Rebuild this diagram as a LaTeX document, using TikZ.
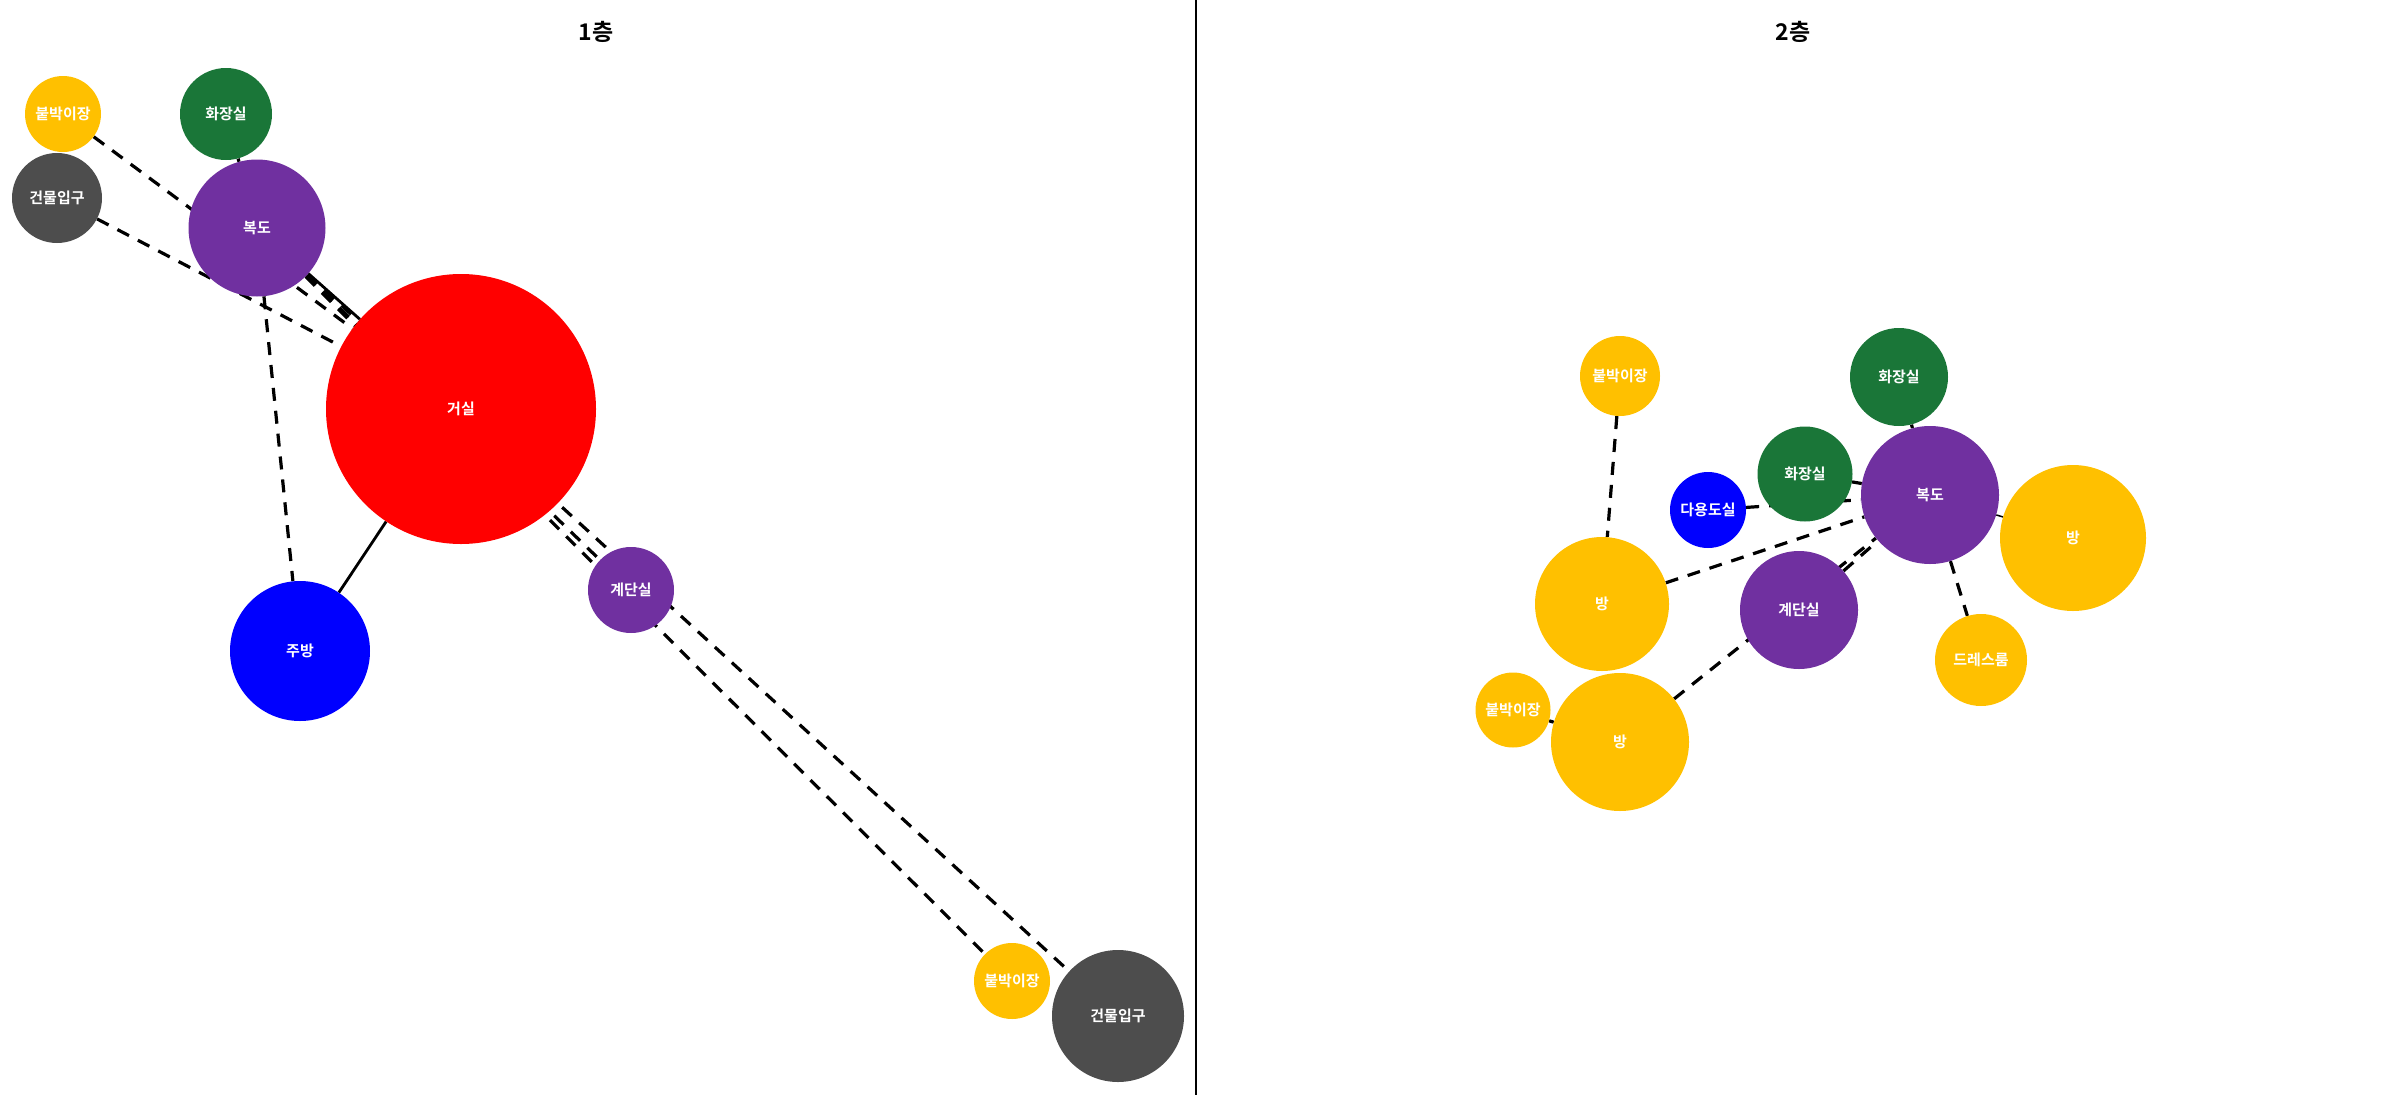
\documentclass[tikz,border=0pt]{standalone}
\usepackage{fontspec}
\setmainfont{Noto Sans CJK KR}[BoldFont={Noto Sans CJK KR Bold}]
\usetikzlibrary{backgrounds}

\definecolor{closet}{RGB}{255,192,0}
\definecolor{bath}{RGB}{26,118,56}
\definecolor{entry}{RGB}{77,77,77}
\definecolor{hall}{RGB}{112,48,160}

\begin{document}
\begin{tikzpicture}[x=1pt,y=-1pt,
    room/.style={circle, inner sep=0pt, text=white, font=\fontsize{15}{15}\selectfont\bfseries},
    floorname/.style={font=\fontsize{23}{23}\selectfont\bfseries},
    wall/.style={line width=3.2pt, dash pattern=on 13pt off 10pt},
    door/.style={line width=2.8pt},
    open/.style={line width=1.5pt}]
    \useasboundingbox (0,0) rectangle (2391,1095);

    % 1층
    \node[floorname] (title1) at (596,32) {1층};
    \foreach \nm/\x/\y/\rad/\col/\lab in {
        cloA/63/114/38/closet/붙박이장,
        bathA/226/114/46/bath/화장실,
        entA/57/198/45/entry/건물입구,
        hallA/257/228/68.5/hall/복도,
        living/461/409/135/red/거실,
        kitchen/300/651/70/blue/주방,
        stairA/631/590/43/hall/계단실,
        cloB/1012/981/38/closet/붙박이장,
        entB/1118/1016/66/entry/건물입구} {
        \node[room, fill=\col, minimum size=\rad*2pt] (\nm) at (\x,\y) {\lab};
    }

    % 2층
    \node[floorname] (title2) at (1793,32) {2층};
    \foreach \nm/\x/\y/\rad/\col/\lab in {
        cloC/1620/376/40/closet/붙박이장,
        bathB/1899/377/49/bath/화장실,
        bathC/1805/474/47.5/bath/화장실,
        utility/1708/510/38/blue/다용도실,
        hallB/1930/495/69/hall/복도,
        roomA/2073/538/73/closet/방,
        roomB/1602/604/67/closet/방,
        stairB/1799/610/59/hall/계단실,
        dress/1981/660/46/closet/드레스룸,
        cloD/1513/710/37.5/closet/붙박이장,
        roomC/1620/742/69/closet/방} {
        \node[room, fill=\col, minimum size=\rad*2pt] (\nm) at (\x,\y) {\lab};
    }

    \begin{scope}[on background layer]
        % 1층 연결
        \draw[wall] (cloA) -- (living);
        \draw[wall] (entA) -- (living);
        \draw[wall] (bathA) -- (hallA);
        \draw[door] (hallA) -- (living);
        \draw[wall] (hallA) -- (kitchen);
        \draw[wall] (hallA) -- (stairA);
        \draw[wall] (hallA) -- (cloB);
        \draw[wall] (hallA) -- (entB);
        \draw[door] (living) -- (kitchen);
        % 2층 연결
        \draw[wall] (cloC) -- (roomB);
        \draw[wall] (bathB) -- (hallB);
        \draw[wall] (bathC) -- (hallB);
        \draw[wall] (utility) -- (hallB);
        \draw[wall] (roomB) -- (hallB);
        \draw[wall] (stairB) -- (hallB);
        \draw[wall] (roomC) -- (hallB);
        \draw[wall] (hallB) -- (dress);
        \draw[open] (hallB) -- (roomA);
        \draw[wall] (cloD) -- (roomC);
    \end{scope}

    \draw[line width=1.2pt] (1196,0) -- (1196,1095);
\end{tikzpicture}
\end{document}
